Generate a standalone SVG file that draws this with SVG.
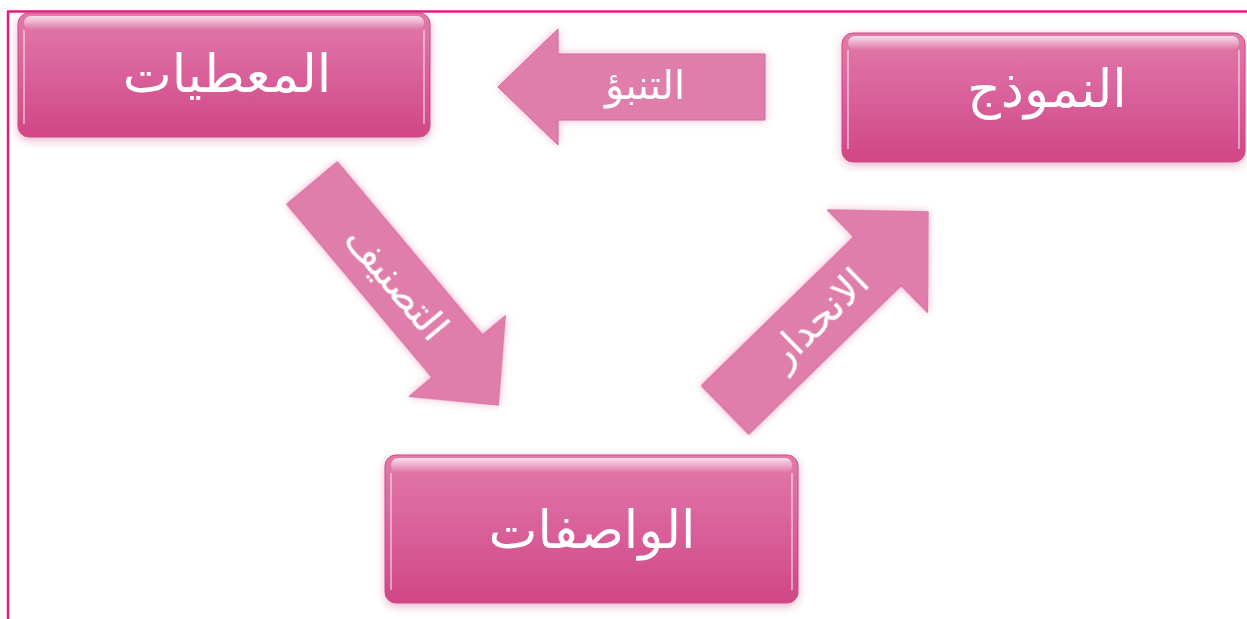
<svg xmlns="http://www.w3.org/2000/svg" width="1247" height="619" viewBox="0 0 1247 619">
<defs>
<linearGradient id="boxg" x1="0" y1="0" x2="0" y2="1">
<stop offset="0" stop-color="#e17aa8"/>
<stop offset="0.5" stop-color="#d9609a"/>
<stop offset="1" stop-color="#d04784"/>
</linearGradient>
<linearGradient id="hl" x1="0" y1="0" x2="0" y2="1">
<stop offset="0" stop-color="#ffffff" stop-opacity="0.75"/>
<stop offset="1" stop-color="#ffffff" stop-opacity="0"/>
</linearGradient>
<filter id="sh" x="-10%" y="-20%" width="120%" height="140%">
<feGaussianBlur in="SourceAlpha" stdDeviation="4" result="b"/>
<feOffset in="b" dx="0" dy="3" result="o"/>
<feFlood flood-color="#c0306f" flood-opacity="0.35"/>
<feComposite operator="in" in2="o"/>
<feMerge><feMergeNode/><feMergeNode in="SourceGraphic"/></feMerge>
</filter>
<filter id="glow" x="-20%" y="-20%" width="140%" height="140%">
<feGaussianBlur in="SourceAlpha" stdDeviation="4" result="b"/>
<feFlood flood-color="#e0609a" flood-opacity="0.45"/>
<feComposite operator="in" in2="b"/>
<feMerge><feMergeNode/><feMergeNode in="SourceGraphic"/></feMerge>
</filter>
</defs>
<style>
.frame{stroke:#e8197f;stroke-width:2.5;fill:none}
.box{fill:url(#boxg);stroke:#cf4a86;stroke-width:1}
.hl{fill:url(#hl)}
.side{fill:none;stroke:#ffffff;stroke-opacity:0.45;stroke-width:2}
.arrow{fill:#e07eab;stroke:#d8659a;stroke-width:1}
.btxt{font-family:"DejaVu Sans",sans-serif;font-size:52px;fill:#ffffff;text-anchor:middle}
.atxt{font-family:"DejaVu Sans",sans-serif;font-size:40px;fill:#ffffff;text-anchor:middle}
</style>
<line class="frame" x1="7" y1="11.5" x2="1247" y2="11.5"/>
<line class="frame" x1="8" y1="11" x2="8" y2="619"/>

<g id="connectors">
<g id="arrow-predict" transform="translate(765,87) rotate(180)" filter="url(#glow)">
<path class="arrow" d="M0,-33 L207,-33 L207,-58 L267,0 L207,58 L207,33 L0,33 Z"/>
<text class="atxt" transform="rotate(180)" x="-120" y="12">التنبؤ</text>
</g>
<g id="arrow-classify" transform="translate(312,183) rotate(50)" filter="url(#glow)">
<path class="arrow" d="M0,-33 L226,-33 L226,-63 L290,0 L226,63 L226,33 L0,33 Z"/>
<text class="atxt" x="131" y="13">التصنيف</text>
</g>
<g id="arrow-regress" transform="translate(725,410) rotate(-44.3)" filter="url(#glow)">
<path class="arrow" d="M0,-34 L213,-34 L213,-72 L284,0 L213,72 L213,34 L0,34 Z"/>
<text class="atxt" x="131" y="13">الانحدار</text>
</g>
</g>

<g id="node-data" filter="url(#sh)">
<rect class="box" x="18" y="13" width="412" height="124" rx="11"/>
<rect class="hl" x="24" y="16" width="400" height="14" rx="7"/>
<path class="side" d="M24,30 V124 M424,30 V124"/>
<text class="btxt" x="227" y="92">المعطيات</text>
</g>
<g id="node-model" filter="url(#sh)">
<rect class="box" x="842" y="33" width="403" height="129" rx="11"/>
<rect class="hl" x="848" y="36" width="391" height="14" rx="7"/>
<path class="side" d="M848,50 V149 M1239,50 V149"/>
<text class="btxt" x="1047" y="107">النموذج</text>
</g>
<g id="node-features" filter="url(#sh)">
<rect class="box" x="385" y="455" width="413" height="148" rx="11"/>
<rect class="hl" x="391" y="458" width="401" height="15" rx="7"/>
<path class="side" d="M391,473 V590 M792,473 V590"/>
<text class="btxt" x="592" y="548">الواصفات</text>
</g>
</svg>
